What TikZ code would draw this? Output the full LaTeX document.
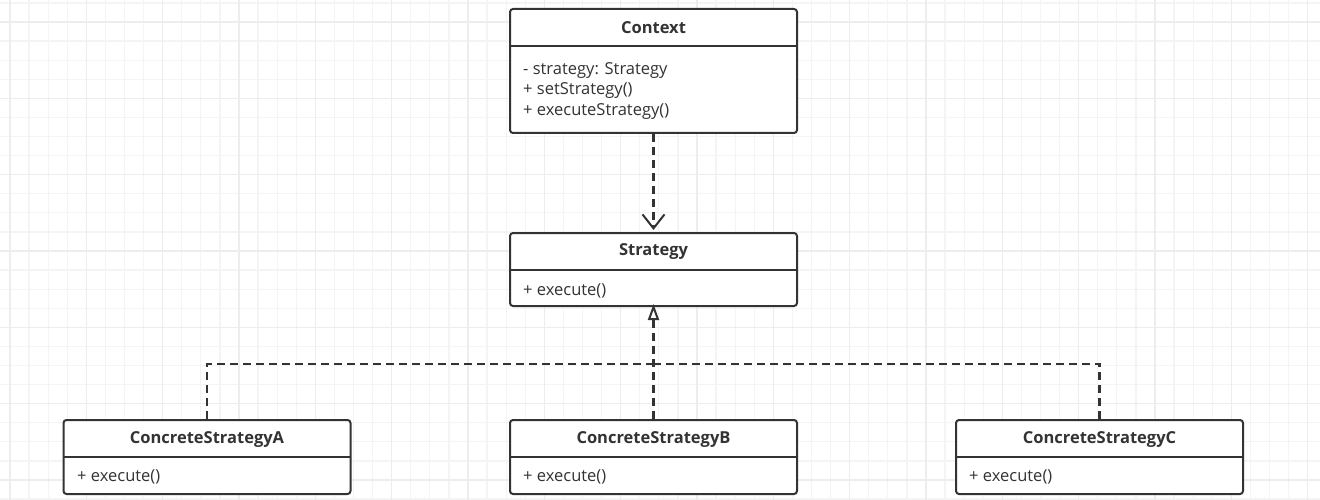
\documentclass[tikz,border=0pt]{standalone}
\usepackage{fontspec}
\setmainfont{Open Sans}
\usetikzlibrary{arrows.meta}
\definecolor{ink}{HTML}{333333}
\definecolor{gridminor}{HTML}{F4F4F4}
\definecolor{gridmajor}{HTML}{EDEDED}
\tikzset{
  classbox/.style={draw=ink, line width=2pt, rounded corners=3pt, fill=white, inner sep=0pt, minimum width=287pt},
  ttl/.style={font=\fontsize{16.5}{18}\selectfont\bfseries, text=ink, inner sep=0pt, anchor=center},
  mem/.style={font=\fontsize{16.5}{20.5}\selectfont, text=ink, inner sep=0pt, anchor=west, align=left},
  divider/.style={draw=ink, line width=2pt},
  dep/.style={draw=ink, line width=2.2pt, dash pattern=on 8pt off 5pt},
}
\begin{document}
\begin{tikzpicture}[x=1pt,y=-1pt]
\useasboundingbox (0,0) rectangle (1320,500);
\fill[white] (0,0) rectangle (1320,500);
% grid
\foreach \k in {-1,...,69}{
  \pgfmathsetmacro{\gx}{10+\k*19.083}
  \draw[gridminor, line width=1.2pt] (\gx,0) -- (\gx,500);
}
\foreach \k in {-2,...,26}{
  \pgfmathsetmacro{\gy}{22+\k*19.083}
  \draw[gridminor, line width=1.2pt] (0,\gy) -- (1320,\gy);
}
\foreach \k in {0,...,17}{
  \pgfmathsetmacro{\gx}{10+\k*76.33}
  \draw[gridmajor, line width=1.4pt] (\gx,0) -- (\gx,500);
}
\foreach \k in {0,...,6}{
  \pgfmathsetmacro{\gy}{22+\k*76.33}
  \draw[gridmajor, line width=1.4pt] (0,\gy) -- (1320,\gy);
}
% Context
\node[classbox, minimum height=124pt] (ctx) at (653.5,71) {};
\node[ttl] (ctxT) at (653.5,28) {Context};
\draw[divider] (510,46) -- (797,46);
\node[mem] (ctxM) at (523,91) {- strategy: Strategy\\+ setStrategy()\\+ executeStrategy()};
% Strategy
\node[classbox, minimum height=73pt] (str) at (653.5,269.5) {};
\node[ttl] (strT) at (653.5,252) {Strategy};
\draw[divider] (510,270) -- (797,270);
\node[mem] (strM) at (523,291) {+ execute()};
% Concrete
\node[classbox, minimum height=74pt] (csA) at (207,457) {};
\node[ttl] (csAT) at (207,440) {ConcreteStrategyA};
\draw[divider] (64,457) -- (350,457);
\node[mem] (csAM) at (77,477) {+ execute()};
\node[classbox, minimum height=74pt] (csB) at (653.5,457) {};
\node[ttl] (csBT) at (653.5,440) {ConcreteStrategyB};
\draw[divider] (510,457) -- (797,457);
\node[mem] (csBM) at (523,477) {+ execute()};
\node[classbox, minimum height=74pt] (csC) at (1099.5,457) {};
\node[ttl] (csCT) at (1099.5,440) {ConcreteStrategyC};
\draw[divider] (956,457) -- (1243,457);
\node[mem] (csCM) at (969,477) {+ execute()};
% connectors
\draw[dep, -{Straight Barb[length=14pt,width=22pt,line width=2pt]}] (ctx.south) -- ([yshift=2pt]str.north);
\coordinate (junc) at (653.5,364);
\draw[dep] (csA.north) |- (junc);
\draw[dep] (csC.north) |- (junc);
\draw[dep, -{Triangle[open,length=16pt,width=11pt,line width=2pt]}] (csB.north) -- ([yshift=3pt]str.south);
\end{tikzpicture}
\end{document}
